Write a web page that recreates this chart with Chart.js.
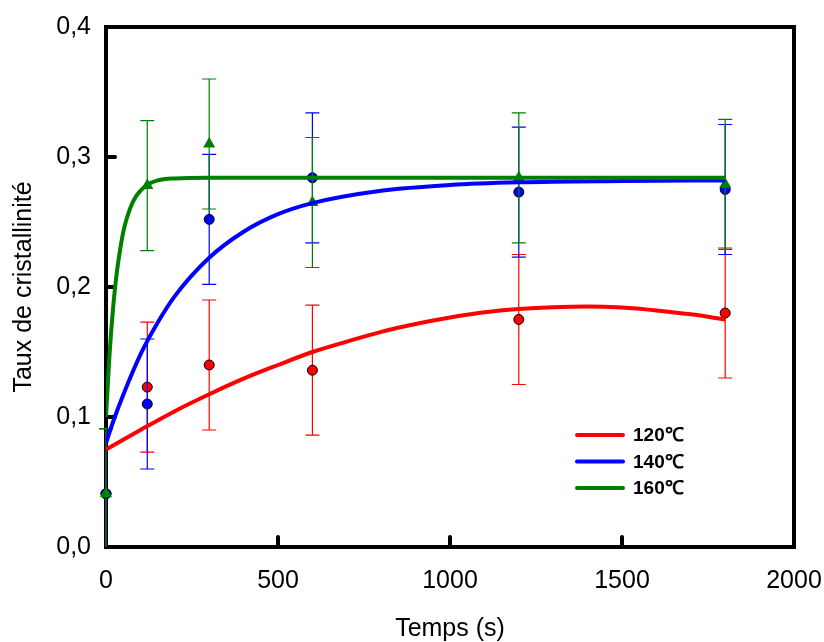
<!DOCTYPE html>
<html lang="fr">
<head>
<meta charset="utf-8">
<title>Taux de cristallinité</title>
<script src="https://cdn.jsdelivr.net/npm/chart.js@4.4.1/dist/chart.umd.min.js"></script>
<style>
  html, body { margin: 0; padding: 0; background: #fff; }
  #wrap { width: 824px; height: 642px; }
</style>
</head>
<body>
<div id="wrap"><canvas id="graf"></canvas></div>
<script>
// Mesures (points + barres d'erreur)
const temps   = [0, 120, 300, 600, 1200, 1800];
const taux120 = [0.041, 0.123, 0.140, 0.136, 0.175, 0.180];
const taux140 = [0.041, 0.110, 0.252, 0.284, 0.273, 0.275];
const taux160 = [0.041, 0.278, 0.310, 0.265, 0.284, 0.279];
const err120  = [0.05, 0.05, 0.05, 0.05, 0.05, 0.05];
const err140  = [0.05, 0.05, 0.05, 0.05, 0.05, 0.05];
const err160  = [0.05, 0.05, 0.05, 0.05, 0.05, 0.05];

// Courbes d'ajustement
const tFit120 = [0, 100, 200, 300, 400, 500, 600, 700, 800, 900, 1000, 1100, 1200, 1300, 1400, 1500, 1600, 1700, 1800];
const fit120  = [0.075, 0.090, 0.1045, 0.1175, 0.1295, 0.140, 0.150, 0.158, 0.1655, 0.1715, 0.1765, 0.1805, 0.183, 0.1845, 0.185, 0.1842, 0.182, 0.179, 0.175];
const tFit140 = [0, 25, 50, 100, 150, 200, 300, 400, 500, 600, 800, 1000, 1200, 1500, 1800];
const fit140  = [0.080, 0.0996, 0.117, 0.148, 0.1725, 0.193, 0.2225, 0.2425, 0.256, 0.2645, 0.274, 0.2785, 0.2805, 0.2815, 0.282];
const tFit160 = [0, 10, 20, 30, 40, 50, 60, 80, 100, 120, 150, 200, 300, 600, 1200, 1800];
const fit160  = [0.100, 0.147, 0.182, 0.208, 0.227, 0.242, 0.2525, 0.2665, 0.274, 0.2785, 0.282, 0.2835, 0.284, 0.284, 0.284, 0.284];

const series = ['120℃', '140℃', '160℃'];
const xTickLabels = ['0', '500', '1000', '1500', '2000'];
const yTickLabels = ['0,0', '0,1', '0,2', '0,3', '0,4'];

const ROUGE = '#ff0000', BLEU = '#0000ff', VERT = '#008000';
const POLICE = "'Liberation Sans', Arial, sans-serif";

const pts = (xs, ys) => xs.map((x, i) => ({ x: x, y: ys[i] }));

// barres d'erreur, dessinées juste avant les marqueurs de la série
const barresErreur = {
  id: 'barresErreur',
  beforeDatasetDraw(chart, args) {
    const ds = chart.data.datasets[args.index];
    if (!ds.erreurs) return;
    const { ctx, scales: { x, y } } = chart;
    ctx.save();
    ctx.strokeStyle = ds.couleurBarre;
    ctx.lineWidth = 1.2;
    ds.data.forEach((p, i) => {
      const e = ds.erreurs[i];
      const px = x.getPixelForValue(p.x);
      const hi = y.getPixelForValue(p.y + e);
      const lo = y.getPixelForValue(Math.max(0, p.y - e));
      ctx.beginPath();
      ctx.moveTo(px, hi); ctx.lineTo(px, lo);
      ctx.moveTo(px - 7, hi); ctx.lineTo(px + 7, hi);
      if (p.y - e > 0) { ctx.moveTo(px - 7, lo); ctx.lineTo(px + 7, lo); }
      ctx.stroke();
    });
    ctx.restore();
  }
};

// cadre noir et graduations intérieures
const cadre = {
  id: 'cadre',
  beforeDatasetsDraw(chart) {
    const { ctx, chartArea: a, scales: { x, y } } = chart;
    ctx.save();
    ctx.strokeStyle = '#000';
    ctx.lineWidth = 4;
    ctx.strokeRect(a.left, a.top, a.right - a.left, a.bottom - a.top);
    ctx.lineCap = 'round';
    y.ticks.slice(1, -1).forEach(t => {
      const py = y.getPixelForValue(t.value);
      ctx.beginPath(); ctx.moveTo(a.left, py); ctx.lineTo(a.left + 9, py); ctx.stroke();
    });
    x.ticks.slice(1, -1).forEach(t => {
      const px = x.getPixelForValue(t.value);
      ctx.beginPath(); ctx.moveTo(px, a.bottom); ctx.lineTo(px, a.bottom - 10); ctx.stroke();
    });
    ctx.restore();
  }
};

// légende dans le coin bas droit
const legende = {
  id: 'legende',
  afterDraw(chart) {
    const { ctx, chartArea: a } = chart;
    const courbes = chart.data.datasets.filter(d => d.courbe);
    ctx.save();
    ctx.font = 'bold 19px ' + POLICE;
    ctx.textBaseline = 'middle';
    ctx.fillStyle = '#000';
    ctx.lineWidth = 4;
    ctx.lineCap = 'round';
    courbes.forEach((d, i) => {
      const yy = a.top + 408 + i * 26.5;
      ctx.strokeStyle = d.borderColor;
      ctx.beginPath(); ctx.moveTo(a.left + 471, yy); ctx.lineTo(a.left + 517, yy); ctx.stroke();
      ctx.fillText(d.label, a.left + 527, yy + 1);
    });
    ctx.restore();
  }
};

const courbe = (label, xs, ys, coul, ordre) => ({
  label: label, courbe: true, data: pts(xs, ys), showLine: true,
  borderColor: coul, borderWidth: 4, pointRadius: 0,
  cubicInterpolationMode: 'monotone', order: ordre
});
const mesures = (ys, err, coul, style, ordre) => ({
  data: pts(temps, ys), erreurs: err, couleurBarre: coul, showLine: false,
  pointStyle: style, pointRadius: style === 'triangle' ? 7 : 5,
  backgroundColor: coul, borderColor: style === 'triangle' ? coul : '#000',
  borderWidth: style === 'triangle' ? 0 : 1, clip: false, order: ordre
});

new Chart(document.getElementById('graf'), {
  type: 'scatter',
  data: {
    datasets: [
      mesures(taux120, err120, ROUGE, 'circle', 6),
      mesures(taux140, err140, BLEU, 'circle', 5),
      mesures(taux160, err160, VERT, 'triangle', 4),
      courbe(series[0], tFit120, fit120, ROUGE, 3),
      courbe(series[1], tFit140, fit140, BLEU, 2),
      courbe(series[2], tFit160, fit160, VERT, 1)
    ]
  },
  options: {
    responsive: true,
    maintainAspectRatio: false,
    animation: false,
    layout: { padding: { left: 0, right: 30, top: 27, bottom: 0 } },
    plugins: { legend: { display: false }, tooltip: { enabled: false } },
    scales: {
      x: {
        type: 'linear', min: 0, max: 2000,
        grid: { display: false, drawTicks: false },
        border: { display: false },
        ticks: { stepSize: 500, padding: 19, color: '#000', font: { family: POLICE, size: 25 },
                 maxRotation: 0, callback: (v, i) => xTickLabels[i] },
        title: { display: true, text: 'Temps (s)', color: '#000',
                 font: { family: POLICE, size: 25, lineHeight: 1 }, padding: { top: 0, bottom: 0 } },
        afterFit: s => { s.height = 95; s.paddingLeft = 0; s.paddingRight = 0; }
      },
      y: {
        type: 'linear', min: 0, max: 0.4,
        grid: { display: false, drawTicks: false },
        border: { display: false },
        ticks: { stepSize: 0.1, padding: 15, color: '#000', font: { family: POLICE, size: 25 },
                 callback: (v, i) => yTickLabels[i] },
        title: { display: true, text: 'Taux de cristallinité', color: '#000',
                 font: { family: POLICE, size: 25, lineHeight: 1.2 }, padding: { top: 9, bottom: 0 } },
        afterFit: s => { s.width = 106; s.paddingTop = 0; s.paddingBottom = 0; }
      }
    }
  },
  plugins: [barresErreur, cadre, legende]
});
</script>
</body>
</html>
